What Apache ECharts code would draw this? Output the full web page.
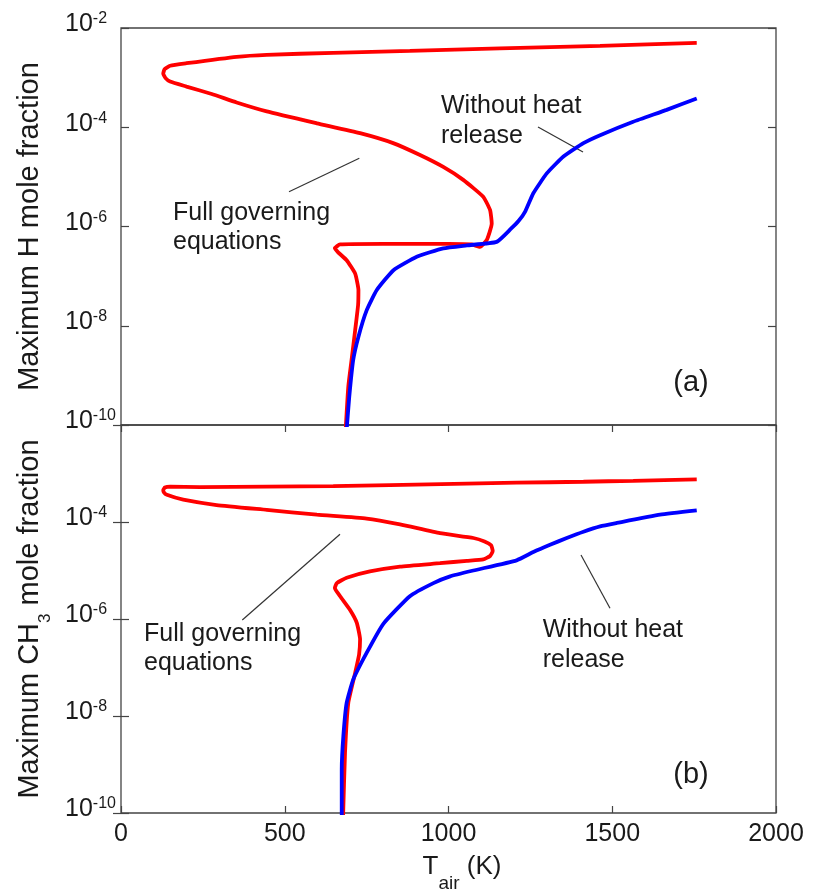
<!DOCTYPE html>
<html>
<head>
<meta charset="utf-8">
<script src="https://cdn.jsdelivr.net/npm/echarts@6/dist/echarts.min.js"></script>
<style>
html,body{margin:0;padding:0;background:#ffffff;}
#chart{width:814px;height:890px;}
</style>
</head>
<body>
<div id="chart"></div>
<script>
// ---- axis ticks ----
const xTicks = [0, 500, 1000, 1500, 2000];          // T_air (K)
const yExpTicks = [-10, -8, -6, -4, -2];             // log10 of mole fraction (labels 10^n)

// ---- panel (a): maximum H mole fraction (values stored as log10) ----
const tairH_full = [686, 694, 704, 715, 724, 725, 715, 689, 663, 653,
                    669, 800, 1000, 1070, 1096, 1117, 1132, 1127, 1106, 1045,
                    984, 913, 831, 730, 598, 445, 353, 277, 200, 150,
                    136, 129, 133, 150, 200, 353, 445, 648, 882, 1157,
                    1463, 1758];
const logH_full = [-10.1, -9.23, -8.69, -8.09, -7.58, -7.28, -6.95, -6.68, -6.52, -6.44,
                   -6.36, -6.35, -6.35, -6.36, -6.41, -6.27, -5.94, -5.67, -5.40, -5.06,
                   -4.80, -4.56, -4.32, -4.12, -3.92, -3.68, -3.50, -3.33, -3.18, -3.08,
                   -3.01, -2.92, -2.83, -2.76, -2.71, -2.58, -2.54, -2.50, -2.46, -2.41,
                   -2.36, -2.30];

const tairH_noHeat = [689, 697, 709, 725, 750, 781, 832, 903, 984, 1056,
                      1147, 1190, 1215, 1234, 1259, 1300, 1351, 1412, 1463, 1564,
                      1666, 1758];
const logH_noHeat = [-10.1, -9.43, -8.69, -8.22, -7.69, -7.28, -6.88, -6.61, -6.44, -6.38,
                     -6.31, -6.05, -5.88, -5.70, -5.33, -4.93, -4.59, -4.32, -4.16, -3.89,
                     -3.65, -3.42];

// ---- panel (b): maximum CH3 mole fraction (values stored as log10) ----
const tairCH3_full = [678, 684, 694, 715, 727, 730, 720, 699, 669, 653,
                      659, 689, 760, 852, 974, 1056, 1106, 1127, 1135, 1130,
                      1110, 1076, 974, 852, 750, 598, 445, 292, 190, 140,
                      131, 129, 134, 150, 241, 445, 648, 821, 1056, 1208,
                      1412, 1564, 1758];
const logCH3_full = [-10.1, -8.76, -7.73, -7.11, -6.73, -6.42, -6.08, -5.81, -5.53, -5.36,
                     -5.26, -5.15, -5.02, -4.92, -4.85, -4.80, -4.77, -4.70, -4.60, -4.48,
                     -4.40, -4.33, -4.23, -4.05, -3.93, -3.85, -3.75, -3.65, -3.54, -3.44,
                     -3.39, -3.34, -3.29, -3.27, -3.28, -3.27, -3.26, -3.24, -3.21, -3.19,
                     -3.17, -3.15, -3.12];

const tairCH3_noHeat = [674, 674, 679, 689, 709, 750, 801, 882, 954, 1005,
                        1076, 1208, 1259, 1310, 1361, 1412, 1463, 1514, 1646, 1758];
const logCH3_noHeat = [-10.1, -9.10, -8.41, -7.73, -7.25, -6.70, -6.10, -5.53, -5.26, -5.12,
                       -5.00, -4.79, -4.62, -4.47, -4.33, -4.20, -4.09, -4.02, -3.85, -3.76];

// ---- build ----
const zip = (xs, ys) => xs.map((x, i) => [x, ys[i]]);
const FONT = '"Liberation Sans", Arial, Helvetica, sans-serif';
const TXT = '#1a1a1a';
const FRAME = '#444444';
const RED = '#ff0000';
const BLUE = '#0000ff';

const xMin = xTicks[0], xMax = xTicks[xTicks.length - 1], xInt = xTicks[1] - xTicks[0];
const yMin = yExpTicks[0], yMax = yExpTicks[yExpTicks.length - 1], yInt = yExpTicks[1] - yExpTicks[0];

const yLabelRich = {
  b: {fontSize: 25, padding: [0, 0, 7, 0], fontFamily: FONT, color: TXT},
  s: {fontSize: 16, padding: [13, 0, 31, 0], fontFamily: FONT, color: TXT}
};
const yLabelFmt = v => '{b|10}{s|' + v + '}';

function leftY(grid, showMax, name, nameGap, nameRich) {
  return {
    type: 'value', gridIndex: grid, position: 'left', min: yMin, max: yMax, interval: yInt,
    axisLine: {show: false},
    axisTick: {show: true, inside: true, length: 8, lineStyle: {color: FRAME, width: 1.2}},
    splitLine: {show: false},
    axisLabel: {show: true, formatter: yLabelFmt, rich: yLabelRich, align: 'left', margin: 56,
                showMinLabel: true, showMaxLabel: showMax, hideOverlap: false},
    name: name, nameLocation: 'middle', nameGap: nameGap, nameRotate: 90,
    nameTextStyle: {rich: nameRich, fontFamily: FONT, color: TXT}
  };
}
function rightY(grid) {
  return {
    type: 'value', gridIndex: grid, position: 'right', min: yMin, max: yMax, interval: yInt,
    axisLine: {show: false}, splitLine: {show: false}, axisLabel: {show: false},
    axisTick: {show: true, inside: true, length: 8, lineStyle: {color: FRAME, width: 1.2}}
  };
}

const option = {
  animation: false,
  backgroundColor: '#ffffff',
  grid: [
    {left: 121, top: 28, width: 655, height: 397, show: true, borderColor: FRAME, borderWidth: 1.3,
     backgroundColor: 'transparent', containLabel: false, outerBoundsMode: 'none'},
    {left: 121, top: 425, width: 655, height: 388, show: true, borderColor: FRAME, borderWidth: 1.3,
     backgroundColor: 'transparent', containLabel: false, outerBoundsMode: 'none'}
  ],
  xAxis: [
    {type: 'value', gridIndex: 0, position: 'bottom', min: xMin, max: xMax, interval: xInt,
     axisLine: {show: false}, axisTick: {show: false}, axisLabel: {show: false}, splitLine: {show: false}},
    {type: 'value', gridIndex: 1, position: 'bottom', min: xMin, max: xMax, interval: xInt,
     axisLine: {show: false}, splitLine: {show: false},
     axisTick: {show: true, inside: true, length: 7, lineStyle: {color: FRAME, width: 1.2}},
     axisLabel: {show: true, fontSize: 25, fontFamily: FONT, color: TXT, margin: 9,
                 formatter: v => String(v),
                 showMinLabel: true, showMaxLabel: true, hideOverlap: false},
     name: '{t|T}{sub|air}{t| (K)}', nameLocation: 'middle', nameGap: 41,
     nameTextStyle: {padding: [0, 0, 0, 27], rich: {
       t: {fontSize: 26, lineHeight: 28, verticalAlign: 'top', fontFamily: FONT, color: TXT},
       sub: {fontSize: 19, lineHeight: 19, padding: [20, 0, 0, 0], verticalAlign: 'top', fontFamily: FONT, color: TXT}
     }}},
    {type: 'value', gridIndex: 1, position: 'top', min: xMin, max: xMax, interval: xInt,
     axisLine: {show: false}, splitLine: {show: false}, axisLabel: {show: false},
     axisTick: {show: true, inside: true, length: 7, lineStyle: {color: FRAME, width: 1.2}}}
  ],
  yAxis: [
    leftY(0, true, '{a|Maximum H mole fraction}', 77, {
      a: {fontSize: 29, lineHeight: 29, verticalAlign: 'top', fontFamily: FONT, color: TXT}
    }),
    rightY(0),
    leftY(1, false, '{a|Maximum CH}{sub|3}{a| mole fraction}', 67, {
      a: {fontSize: 29, lineHeight: 29, verticalAlign: 'top', fontFamily: FONT, color: TXT},
      sub: {fontSize: 17, lineHeight: 17, padding: [22, 0, 0, 0], verticalAlign: 'top', fontFamily: FONT, color: TXT}
    }),
    rightY(1)
  ],
  series: [
    {name: 'H full', type: 'line', xAxisIndex: 0, yAxisIndex: 0, data: zip(tairH_full, logH_full),
     showSymbol: false, smooth: 0.15, lineStyle: {color: RED, width: 3.8}, itemStyle: {color: RED}, z: 2},
    {name: 'H no heat', type: 'line', xAxisIndex: 0, yAxisIndex: 0, data: zip(tairH_noHeat, logH_noHeat),
     showSymbol: false, smooth: 0.15, lineStyle: {color: BLUE, width: 3.8}, itemStyle: {color: BLUE}, z: 3},
    {name: 'CH3 full', type: 'line', xAxisIndex: 1, yAxisIndex: 2, data: zip(tairCH3_full, logCH3_full),
     showSymbol: false, smooth: 0.15, lineStyle: {color: RED, width: 3.8}, itemStyle: {color: RED}, z: 2},
    {name: 'CH3 no heat', type: 'line', xAxisIndex: 1, yAxisIndex: 2, data: zip(tairCH3_noHeat, logCH3_noHeat),
     showSymbol: false, smooth: 0.15, lineStyle: {color: BLUE, width: 3.8}, itemStyle: {color: BLUE}, z: 3}
  ],
  graphic: [
    // panel (a) annotations
    {type: 'text', x: 173, y: 199, style: {text: 'Full governing\nequations', font: '25px ' + FONT, fill: TXT, lineHeight: 29, verticalAlign: 'top', align: 'left'}},
    {type: 'line', shape: {x1: 289, y1: 191.7, x2: 359.3, y2: 158.3}, style: {stroke: '#333', lineWidth: 1.2}},
    {type: 'text', x: 441, y: 91.4, style: {text: 'Without heat\nrelease', font: '25px ' + FONT, fill: TXT, lineHeight: 30, verticalAlign: 'top', align: 'left'}},
    {type: 'line', shape: {x1: 538, y1: 127, x2: 583, y2: 152}, style: {stroke: '#333', lineWidth: 1.2}},
    {type: 'text', x: 691, y: 383, style: {text: '(a)', font: '29px ' + FONT, fill: TXT, verticalAlign: 'middle', align: 'center'}},
    // panel (b) annotations
    {type: 'text', x: 144, y: 619.5, style: {text: 'Full governing\nequations', font: '25px ' + FONT, fill: TXT, lineHeight: 29, verticalAlign: 'top', align: 'left'}},
    {type: 'line', shape: {x1: 242.3, y1: 620, x2: 340, y2: 534.3}, style: {stroke: '#333', lineWidth: 1.2}},
    {type: 'text', x: 542.7, y: 614.7, style: {text: 'Without heat\nrelease', font: '25px ' + FONT, fill: TXT, lineHeight: 30, verticalAlign: 'top', align: 'left'}},
    {type: 'line', shape: {x1: 581, y1: 555, x2: 610, y2: 608.3}, style: {stroke: '#333', lineWidth: 1.2}},
    {type: 'text', x: 691, y: 775, style: {text: '(b)', font: '29px ' + FONT, fill: TXT, verticalAlign: 'middle', align: 'center'}}
  ]
};

const chart = echarts.init(document.getElementById('chart'), null, {renderer: 'canvas'});
chart.setOption(option);
</script>
</body>
</html>
